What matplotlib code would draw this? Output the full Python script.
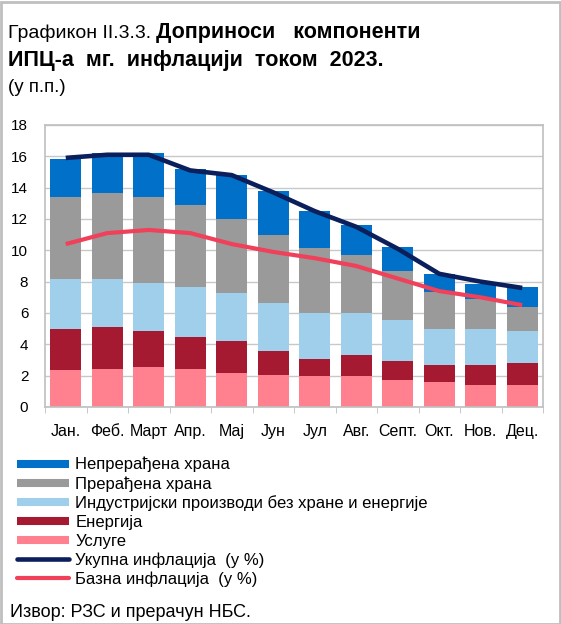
import matplotlib
matplotlib.use('Agg')
import matplotlib.pyplot as plt
from matplotlib.lines import Line2D
from matplotlib.patches import Rectangle
import numpy as np

plt.rcParams['font.family'] = ['Liberation Sans', 'DejaVu Sans']

months = ['Јан.', 'Феб.', 'Март', 'Апр.', 'Мај', 'Јун', 'Јул', 'Авг.', 'Септ.', 'Окт.', 'Нов.', 'Дец.']

# contributions, p.p.
services = [2.34, 2.45, 2.58, 2.45, 2.19, 2.07, 1.96, 1.96, 1.70, 1.58, 1.43, 1.43]
energy = [2.62, 2.64, 2.26, 2.00, 2.03, 1.51, 1.13, 1.38, 1.24, 1.08, 1.23, 1.38]
industrial = [3.22, 3.09, 3.08, 3.24, 3.07, 3.09, 2.92, 2.67, 2.60, 2.35, 2.35, 2.07]
processed = [5.24, 5.50, 5.50, 5.22, 4.73, 4.30, 4.11, 3.70, 3.15, 2.34, 1.91, 1.51]
unprocessed = [2.41, 2.51, 2.81, 2.30, 2.79, 2.83, 2.41, 1.90, 1.54, 1.11, 0.96, 1.28]

# y-o-y inflation, %
total_infl = [15.9, 16.1, 16.1, 15.1, 14.8, 13.7, 12.5, 11.5, 10.1, 8.5, 8.0, 7.6]
core_infl = [10.4, 11.1, 11.3, 11.1, 10.4, 9.9, 9.5, 9.0, 8.2, 7.4, 7.0, 6.5]

series = [
    ('Услуге', services, '#FF808E'),
    ('Енергија', energy, '#A51931'),
    ('Индустријски производи без хране и енергије', industrial, '#A0CFEB'),
    ('Прерађена храна', processed, '#9A9A9A'),
    ('Непрерађена храна', unprocessed, '#0070C8'),
]
col_total = '#0A1F5C'
col_core = '#F0405A'

W, H = 561, 624
fig = plt.figure(figsize=(W / 100, H / 100), dpi=100)
ax = fig.add_axes([45 / W, 1 - 407 / H, (543 - 45) / W, (407 - 125) / H])

x = np.arange(len(months))
bottom = np.zeros(len(months))
colors = {}
for name, vals, col in series:
    ax.bar(x, vals, width=0.74, bottom=bottom, color=col, zorder=2)
    colors[name] = col
    bottom += np.array(vals)

ax.plot(x, total_infl, color=col_total, lw=3.3, zorder=3, solid_capstyle='butt')
ax.plot(x, core_infl, color=col_core, lw=3.0, zorder=3, solid_capstyle='butt')

ax.set_xlim(-0.5, 11.5)
ax.set_ylim(0, 18)
ax.set_yticks(np.arange(0, 19, 2))
ax.yaxis.grid(True, color='#C8C8C8', lw=1.0, zorder=0)
ax.set_axisbelow(True)
ax.set_xticks(x)
ax.set_xticklabels(months)
ax.set_xticks(np.arange(-0.5, 12, 1), minor=True)
ax.tick_params(axis='x', which='major', length=0, pad=12, labelsize=11.5)
ax.tick_params(axis='x', which='minor', length=4, color='#BFBFBF', direction='out')
ax.tick_params(axis='y', length=0, pad=12, labelsize=11)
for s in ax.spines.values():
    s.set_color('#BFBFBF')
    s.set_linewidth(1.2)

# titles
t = fig.text(8 / W, 1 - 38 / H, 'Графикон II.3.3. ', fontsize=14, va='baseline', ha='left')
fig.canvas.draw()
bb = t.get_window_extent()
fig.text(bb.x1 / W, 1 - 38 / H, 'Доприноси   компоненти', fontsize=15.5, fontweight='bold', va='baseline', ha='left')
fig.text(8 / W, 1 - 66 / H, 'ИПЦ-а  мг.  инфлацији  током  2023.', fontsize=15.5, fontweight='bold', va='baseline', ha='left')
fig.text(8 / W, 1 - 92 / H, '(у п.п.)', fontsize=13.5, va='baseline', ha='left')

order = ['Непрерађена храна', 'Прерађена храна', 'Индустријски производи без хране и енергије', 'Енергија', 'Услуге']
leg_h = [Line2D([], [], color=colors[n], lw=5.8, solid_capstyle='butt') for n in order]
leg_h += [Line2D([], [], color=col_total, lw=3.3, solid_capstyle='round'),
          Line2D([], [], color=col_core, lw=3.0, solid_capstyle='round')]
leg_l = order + ['Укупна инфлација  (у %)', 'Базна инфлација  (у %)']
fig.legend(leg_h, leg_l, loc='upper left', bbox_to_anchor=(17 / W, 1 - 457 / H), frameon=False,
           fontsize=12, handlelength=3.1, handletextpad=0.4, labelspacing=0.22,
           borderpad=0, borderaxespad=0)

fig.text(10 / W, 1 - 617 / H, 'Извор: РЗС и прерачун НБС.', fontsize=13, va='baseline', ha='left')

fig.patches.append(Rectangle((1 / W, 0), 1 - 2 / W, 1 - 2 / H, transform=fig.transFigure,
                             fill=False, edgecolor='#BFBFBF', lw=2))

fig.savefig('out.png', dpi=100)
